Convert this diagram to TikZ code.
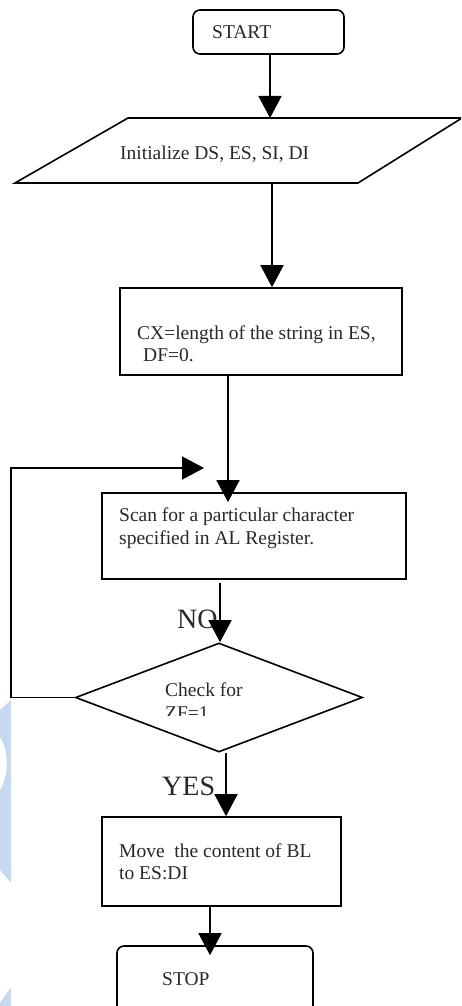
\documentclass[tikz,border=0pt]{standalone}
\usepackage{fontspec}
\setmainfont{Liberation Serif}
\usetikzlibrary{arrows.meta,shapes.geometric,calc}
\definecolor{inkgray}{RGB}{40,40,40}
\definecolor{markblue}{RGB}{198,217,241}
\tikzset{
  flow/.style={line width=1.6pt, draw=black},
  stepbox/.style={flow, rectangle, inner sep=0pt},
  termbox/.style={flow, rectangle, rounded corners=7pt, inner sep=0pt},
  txt/.style={anchor=base west, inner sep=0pt, text=inkgray, font=\fontsize{19.5}{22}\selectfont},
  big/.style={anchor=base west, inner sep=0pt, text=inkgray, font=\fontsize{28}{30}\selectfont},
  arr/.style={line width=1.6pt, -{Triangle[width=23pt,length=22pt]}},
}
\begin{document}
\begin{tikzpicture}[x=1pt,y=-1pt]
\useasboundingbox (0,0) rectangle (461,1006);
\clip (0,0) rectangle (461,1006);

% pale blue mark along the left edge
\fill[markblue] (0,710) -- (11,700) -- (11,883) -- (0,870) -- (0,790)
  .. controls (9,775) and (9,750) .. (0,737) -- cycle;
\fill[markblue] (0,1003) -- (11,987) -- (11,1006) -- (0,1006) -- cycle;

% START
\node[termbox, minimum width=151pt, minimum height=44pt] (start) at (268.5,32) {};
\node[txt] (start-t) at (212,39) {START};

% initialisation (parallelogram)
\coordinate (pTL) at (128,118);
\coordinate (pTR) at (462,118);
\coordinate (pBR) at (358,183);
\coordinate (pBL) at (15,183);
\draw[flow] (pTL) -- (pTR) -- (pBR) -- (pBL) -- cycle;
\node[txt] (init-t) at (120,159) {Initialize DS, ES, SI, DI};
\coordinate (pIn) at (270,118);
\coordinate (pOut) at (272,183);

% CX / DF setup
\node[stepbox, minimum width=282pt, minimum height=87pt] (setup) at (261,331.5) {};
\node[txt] (setup-l1) at (137,339) {CX=length of the string in ES,};
\node[txt] (setup-l2) at (143,361) {DF=0.};

% scan
\node[stepbox, minimum width=304pt, minimum height=86pt] (scan) at (254,536) {};
\node[txt] (scan-l1) at (119,521) {Scan for a particular character};
\node[txt] (scan-l2) at (119,544) {specified in AL Register.};

% decision
\node[flow, diamond, inner sep=0pt, aspect=2.63, minimum width=287pt, minimum height=109pt] (check) at (219,697.5) {};
\node[txt] (check-l1) at (165,696) {Check for};
\begin{scope}
  \clip (100,690) rectangle (300,715);
  \node[txt] (check-l2) at (165,719) {ZF=1};
\end{scope}

% move
\node[stepbox, minimum width=239pt, minimum height=89pt] (move) at (221.5,861.5) {};
\node[txt] (move-l1) at (119,857) {Move\ \ the content of BL};
\node[txt] (move-l2) at (119,879) {to ES:DI};

% STOP
\node[termbox, minimum width=196pt, minimum height=70pt] (stop) at (215,981) {};
\node[txt] (stop-t) at (162,985) {STOP};

% branch labels
\node[big] (no) at (177,628) {NO};
\node[big] (yes) at (162,795) {YES};

% connectors
\coordinate (c3) at (228,0);
\coordinate (c4) at (220,0);
\coordinate (c5) at (226,0);
\coordinate (c6) at (210,0);
\coordinate (loopL) at (11,0);
\coordinate (loopT) at (204,468);

\draw[arr] (start.south -| pIn) -- (pIn);
\draw[arr] (pOut) -- (pOut |- setup.north);
\draw[arr, shorten >=-10pt] (setup.south -| c3) -- (scan.north -| c3);
\draw[arr] ([yshift=-3pt]scan.south -| c4) -- (check.north -| c4);
\draw[arr] (check.west) -- (check.west -| loopL) |- (loopT);
\draw[arr] (check.south -| c5) -- (move.north -| c5);
\draw[arr, shorten >=-10pt] (move.south -| c6) -- (stop.north -| c6);
\end{tikzpicture}
\end{document}
